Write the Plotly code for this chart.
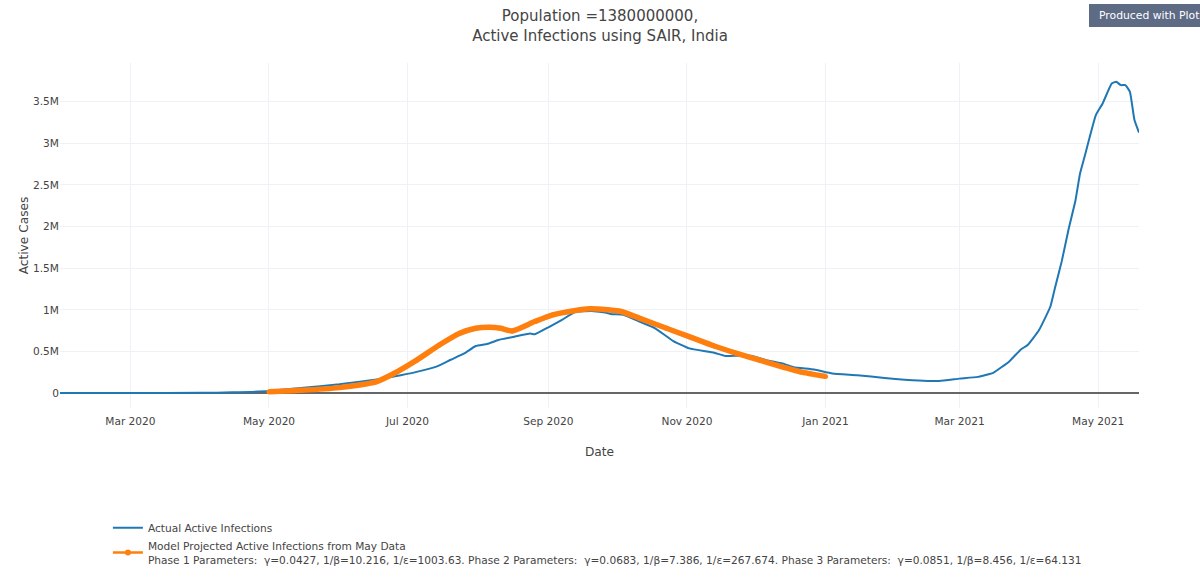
import plotly.graph_objects as go

# valores (millones de casos activos)
actual_dates = [
    "2020-01-30", "2020-03-01", "2020-04-01", "2020-04-15", "2020-05-01", "2020-05-15", "2020-06-01",
    "2020-06-19", "2020-06-28", "2020-07-05", "2020-07-14", "2020-07-20", "2020-07-26", "2020-07-31",
    "2020-08-05", "2020-08-10", "2020-08-17", "2020-08-24", "2020-08-26", "2020-09-01", "2020-09-07",
    "2020-09-13", "2020-09-21", "2020-09-26", "2020-09-29", "2020-10-04", "2020-10-11", "2020-10-18",
    "2020-10-26", "2020-11-02", "2020-11-13", "2020-11-18", "2020-11-23", "2020-11-29", "2020-12-06",
    "2020-12-14", "2020-12-18", "2020-12-27", "2021-01-04", "2021-01-15", "2021-01-27", "2021-02-11",
    "2021-02-20", "2021-03-01", "2021-03-09", "2021-03-16", "2021-03-23", "2021-03-28", "2021-03-31",
    "2021-04-05", "2021-04-10", "2021-04-12", "2021-04-15", "2021-04-18", "2021-04-21", "2021-04-23",
    "2021-04-25", "2021-04-30", "2021-05-03", "2021-05-07", "2021-05-09", "2021-05-11", "2021-05-13",
    "2021-05-15", "2021-05-17", "2021-05-19",
]
actual_cases = [
    0.0, 0.0, 0.002, 0.008, 0.024, 0.06, 0.105,
    0.17, 0.214, 0.254, 0.32, 0.40, 0.476, 0.565,
    0.59, 0.637, 0.677, 0.714, 0.706, 0.79, 0.88,
    0.976, 0.984, 0.968, 0.948, 0.94, 0.86, 0.778,
    0.625, 0.536, 0.484, 0.444, 0.448, 0.448, 0.395,
    0.347, 0.31, 0.282, 0.234, 0.214, 0.181, 0.150,
    0.145, 0.173, 0.194, 0.246, 0.383, 0.524, 0.577,
    0.758, 1.04, 1.262, 1.585, 1.968, 2.31, 2.633,
    2.835, 3.34, 3.48, 3.72, 3.74, 3.70, 3.70,
    3.62, 3.28, 3.13,
]

model_dates = [
    "2020-05-01", "2020-05-15", "2020-06-01", "2020-06-17", "2020-06-25", "2020-07-05", "2020-07-15",
    "2020-07-24", "2020-07-31", "2020-08-06", "2020-08-11", "2020-08-16", "2020-08-26", "2020-09-03",
    "2020-09-13", "2020-09-19", "2020-09-27", "2020-10-03", "2020-10-11", "2020-10-23", "2020-11-02",
    "2020-11-13", "2020-11-23", "2020-12-03", "2020-12-14", "2020-12-21", "2021-01-01",
]
model_cases = [
    0.015, 0.032, 0.065, 0.133, 0.234, 0.395, 0.577,
    0.718, 0.778, 0.79, 0.778, 0.746, 0.859, 0.94,
    0.992, 1.012, 1.0, 0.98, 0.9, 0.778, 0.677,
    0.565, 0.476, 0.395, 0.306, 0.254, 0.2,
]

y_ticks = [0, 0.5, 1, 1.5, 2, 2.5, 3, 3.5]
y_labels = ["0", "0.5M", "1M", "1.5M", "2M", "2.5M", "3M", "3.5M"]
x_ticks = ["2020-03-01", "2020-05-01", "2020-07-01", "2020-09-01", "2020-11-01", "2021-01-01", "2021-03-01", "2021-05-01"]
x_labels = ["Mar 2020", "May 2020", "Jul 2020", "Sep 2020", "Nov 2020", "Jan 2021", "Mar 2021", "May 2021"]

model_name = (
    "Model Projected Active Infections from May Data<br>"
    "Phase 1 Parameters:\u00a0 γ=0.0427, 1/β=10.216, 1/ε=1003.63. "
    "Phase 2 Parameters:\u00a0 γ=0.0683, 1/β=7.386, 1/ε=267.674. "
    "Phase 3 Parameters:\u00a0 γ=0.0851, 1/β=8.456, 1/ε=64.131"
)

FONT = "DejaVu Sans"
TEXT = "#444444"
GRID = "#eef2f7"

fig = go.Figure()
fig.add_trace(go.Scatter(
    x=actual_dates, y=actual_cases, mode="lines", name="Actual Active Infections",
    line=dict(color="#1f77b4", width=2, shape="spline", smoothing=0.4),
))
fig.add_trace(go.Scatter(
    x=model_dates, y=model_cases, mode="lines+markers", showlegend=False,
    line=dict(color="#ff7f0e", width=5.5, shape="spline", smoothing=0.6),
    marker=dict(color="#ff7f0e", size=5),
))
# entrada de leyenda aparte, con la linea fina como en el original
fig.add_trace(go.Scatter(
    x=[None], y=[None], mode="lines+markers", name=model_name,
    line=dict(color="#ff7f0e", width=2.5),
    marker=dict(color="#ff7f0e", size=6),
))

fig.update_layout(
    width=1200, height=577, autosize=False,
    margin=dict(l=60, r=61, t=63, b=169),
    paper_bgcolor="white", plot_bgcolor="white",
    font=dict(family=FONT, size=10.6, color=TEXT),
    title=dict(
        text="Population =1380000000,<br>Active Infections using SAIR, India",
        x=0.5, xanchor="center", y=0.963, yanchor="top",
        font=dict(size=15, color=TEXT),
    ),
    xaxis=dict(
        title=dict(text="Date", font=dict(size=12.2), standoff=21),
        range=["2020-01-30", "2021-05-19"],
        tickmode="array", tickvals=x_ticks, ticktext=x_labels,
        showgrid=True, gridcolor=GRID, zeroline=False, showline=False,
        ticks="outside", ticklen=3, tickcolor="white",
    ),
    yaxis=dict(
        title=dict(text="Active Cases", font=dict(size=12.2), standoff=1),
        range=[-0.18, 3.966],
        tickmode="array", tickvals=y_ticks, ticktext=y_labels,
        showgrid=True, gridcolor=GRID, zeroline=True, zerolinecolor="#666666", zerolinewidth=1.5,
        showline=False, ticks="",
    ),
    legend=dict(
        x=0.0444, xanchor="left", yref="container", y=0.1104, yanchor="top",
        bgcolor="rgba(0,0,0,0)", font=dict(size=10.6, color=TEXT),
    ),
    # boton recortado arriba a la derecha
    shapes=[dict(
        type="rect", xref="paper", yref="paper",
        x0=(1089 - 60) / 1079, x1=(1215 - 60) / 1079,
        y0=(408 - 27) / 345, y1=(408 - 4) / 345,
        fillcolor="#5d6b85", line=dict(width=0), layer="above",
    )],
    annotations=[dict(
        text="Produced with Plotly", showarrow=False,
        xref="paper", yref="paper",
        x=(1097 - 60) / 1079, xanchor="left",
        y=(408 - 15.5) / 345, yanchor="middle",
        font=dict(size=10.8, color="white"),
    )],
)

fig.write_html("out.html", config={"displayModeBar": False}, post_script="document.body.style.margin='0';")
